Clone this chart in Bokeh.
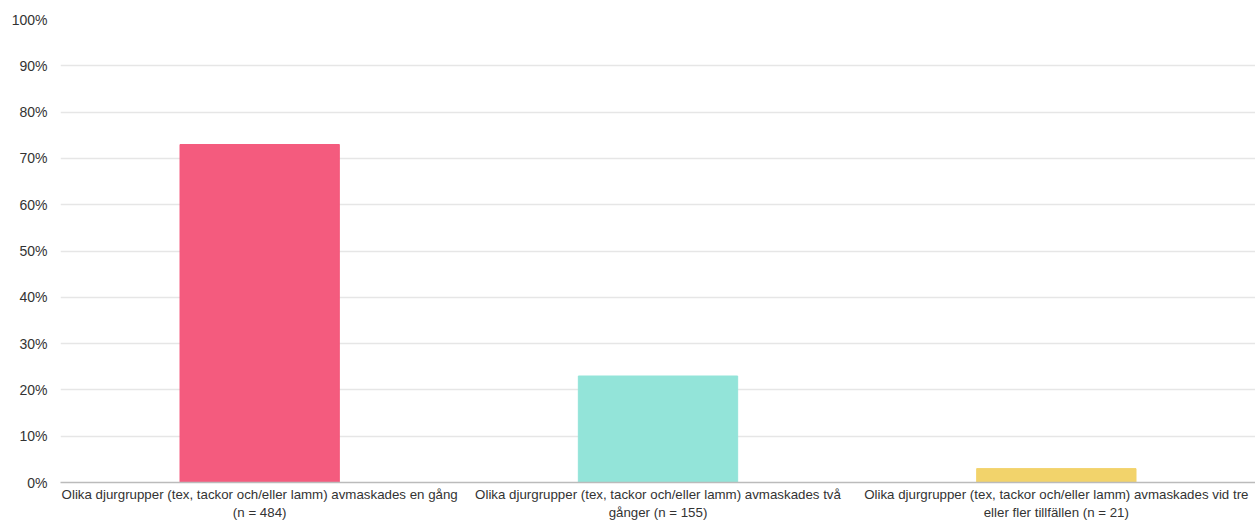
from bokeh.plotting import figure
from bokeh.models import ColumnDataSource, FactorRange, NumeralTickFormatter, FixedTicker
from bokeh.embed import file_html
from bokeh.resources import INLINE

categories = [
    "Olika djurgrupper (tex, tackor och/eller lamm) avmaskades en gång\n(n = 484)",
    "Olika djurgrupper (tex, tackor och/eller lamm) avmaskades två\ngånger (n = 155)",
    "Olika djurgrupper (tex, tackor och/eller lamm) avmaskades vid tre\neller fler tillfällen (n = 21)",
]
values = [0.73, 0.23, 0.03]
colors = ["#F45B7E", "#93E4D9", "#F2D36B"]
y_ticks = [0, 0.1, 0.2, 0.3, 0.4, 0.5, 0.6, 0.7, 0.8, 0.9, 1.0]

source = ColumnDataSource(dict(cat=categories, val=values, color=colors))

p = figure(
    x_range=FactorRange(*categories, range_padding=0),
    y_range=(0, 1),
    width=1255, height=522,
    output_backend="svg", toolbar_location=None,
    min_border_left=60, min_border_right=0, min_border_top=19, min_border_bottom=30,
)
p.vbar(x="cat", top="val", width=0.4, color="color", source=source)

p.outline_line_color = None
p.xgrid.grid_line_color = None
p.ygrid.grid_line_color = "#E6E6E6"
p.ygrid.grid_line_width = 1.5

p.yaxis.ticker = FixedTicker(ticks=y_ticks)
p.yaxis.formatter = NumeralTickFormatter(format="0%")
p.yaxis.axis_line_color = None
p.yaxis.major_tick_line_color = None
p.yaxis.minor_tick_line_color = None
p.yaxis.major_tick_out = 0
p.yaxis.major_tick_in = 0
p.yaxis.major_label_text_font = "Liberation Sans"
p.yaxis.major_label_text_font_size = "14px"
p.yaxis.major_label_text_color = "#333333"
p.yaxis.major_label_standoff = 13

p.xaxis.axis_line_color = "#BBBBBB"
p.xaxis.axis_line_width = 1.5
p.xaxis.major_tick_line_color = None
p.xaxis.minor_tick_line_color = None
p.xaxis.major_tick_out = 0
p.xaxis.major_tick_in = 0
p.xaxis.major_label_text_font = "Liberation Sans"
p.xaxis.major_label_text_font_size = "13.3px"
p.xaxis.major_label_text_color = "#333333"
p.xaxis.major_label_standoff = 4
p.xaxis.major_label_text_line_height = 1.2

open("out.html", "w").write(file_html(p, INLINE))
